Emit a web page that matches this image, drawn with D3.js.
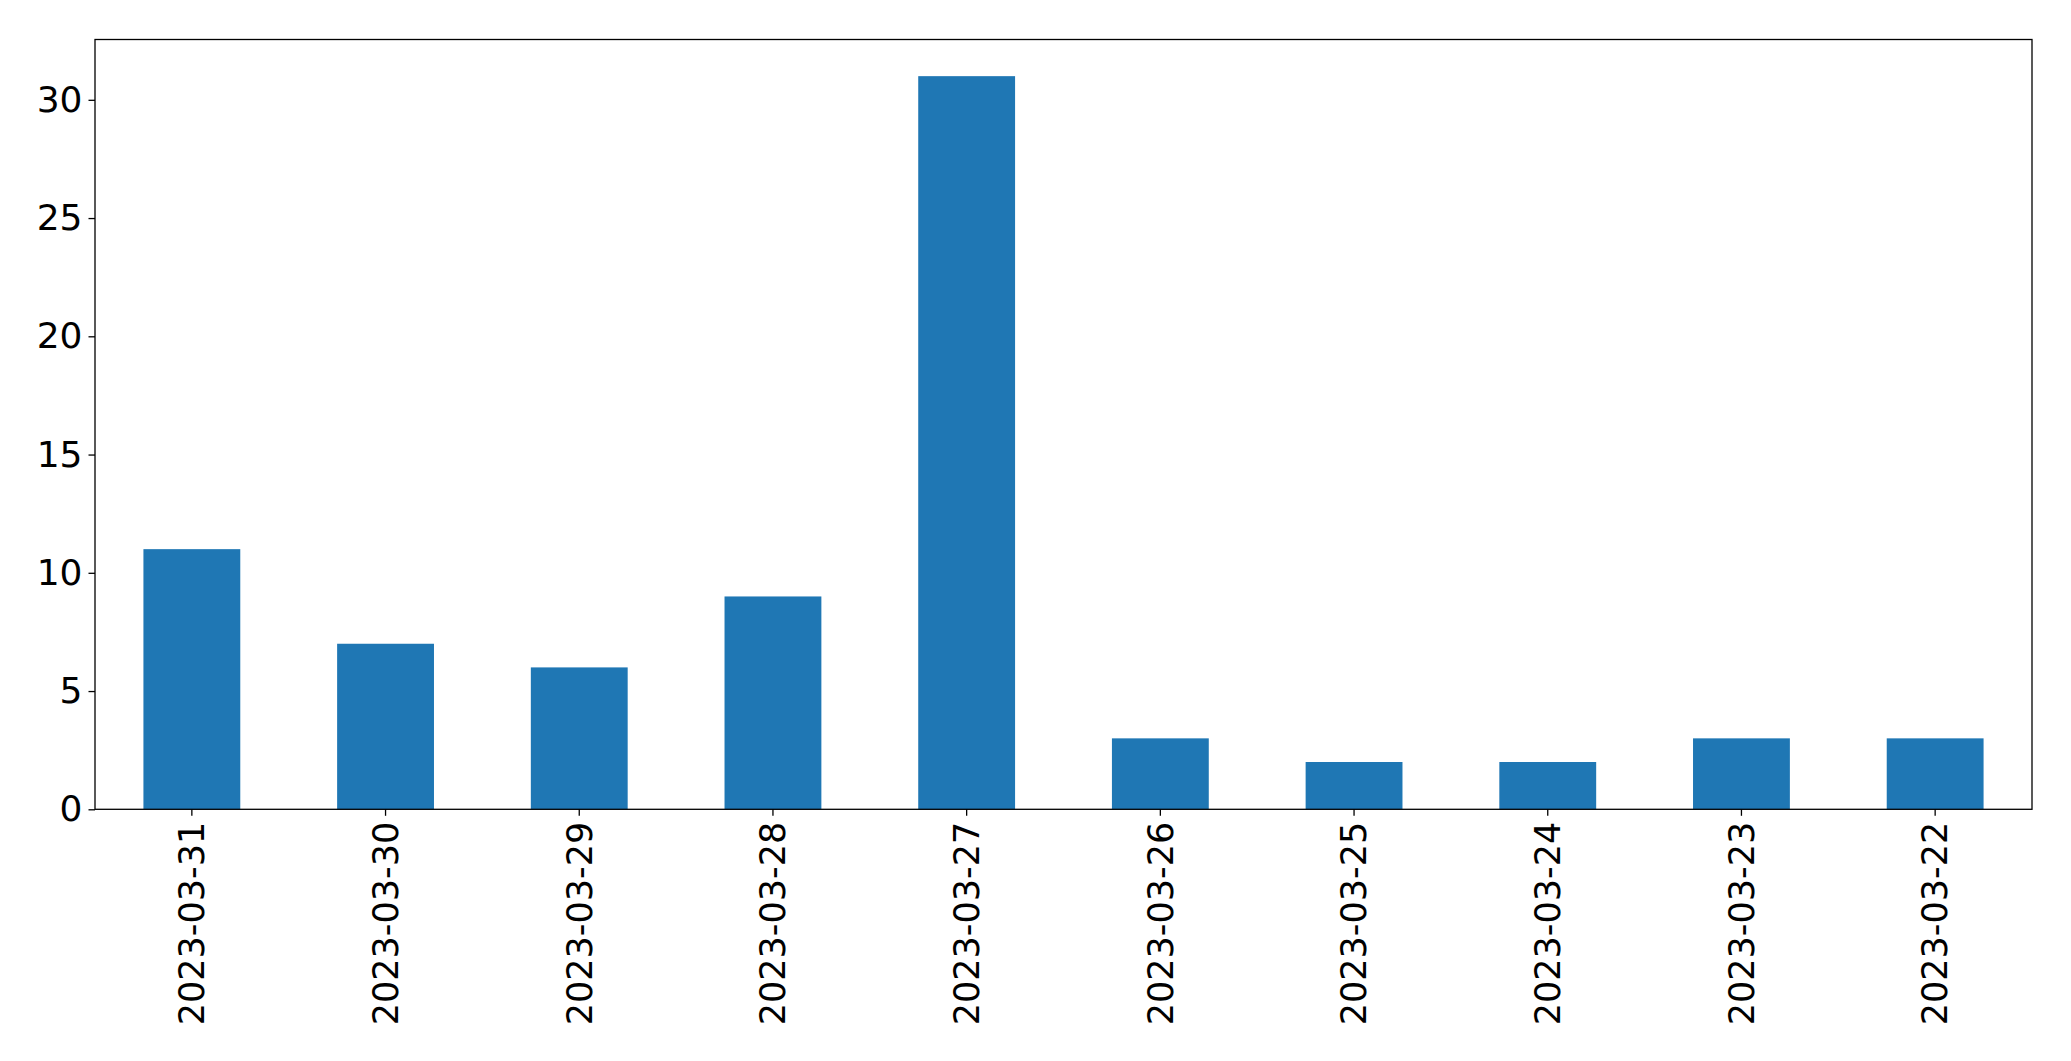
<!DOCTYPE html>
<html>
<head>
<meta charset="utf-8">
<script src="https://cdn.jsdelivr.net/npm/d3@7"></script>
<style>
  html, body { margin: 0; padding: 0; background: #fff; }
  svg { display: block; }
  text { font-family: "DejaVu Sans", sans-serif; fill: #000; }
</style>
</head>
<body>
<script>
const categories = ["2023-03-31","2023-03-30","2023-03-29","2023-03-28","2023-03-27","2023-03-26","2023-03-25","2023-03-24","2023-03-23","2023-03-22"];
const values = [11, 7, 6, 9, 31, 3, 2, 2, 3, 3];
const yTicks = [0, 5, 10, 15, 20, 25, 30];

const W = 2071, H = 1061;
const mLeft = 95, mRight = 2032, mTop = 39.5, mBottom = 809.3;

const svg = d3.select("body").append("svg").attr("width", W).attr("height", H);

const x = d3.scaleBand().domain(categories).range([mLeft, mRight]).paddingInner(0.5).paddingOuter(0.25);
const y = d3.scaleLinear().domain([0, d3.max(values) * 1.05]).range([mBottom, mTop]);

svg.append("g").selectAll("rect").data(values).join("rect")
  .attr("x", (d, i) => x(categories[i]))
  .attr("width", x.bandwidth())
  .attr("y", d => y(d))
  .attr("height", d => y(0) - y(d))
  .attr("fill", "#1f77b4");

// frame
svg.append("rect").attr("x", mLeft).attr("y", mTop).attr("width", mRight - mLeft).attr("height", mBottom - mTop)
  .attr("fill", "none").attr("stroke", "#000").attr("stroke-width", 1.3);

const yAxis = d3.axisLeft(y).tickValues(yTicks).tickSize(6.5).tickPadding(6).tickFormat(d3.format("d"));
const gy = svg.append("g").attr("transform", `translate(${mLeft},0)`).call(yAxis);
gy.select(".domain").remove();
gy.selectAll(".tick line").attr("stroke", "#000").attr("stroke-width", 1.3);
gy.selectAll("text").attr("font-size", 36).attr("font-family", "DejaVu Sans, sans-serif").attr("fill", "#000");

const xAxis = d3.axisBottom(x).tickSize(6.5).tickPadding(6);
const gx = svg.append("g").attr("transform", `translate(0,${mBottom})`).call(xAxis);
gx.select(".domain").remove();
gx.selectAll(".tick line").attr("stroke", "#000").attr("stroke-width", 1.3);
gx.selectAll("text")
  .attr("font-size", 35).attr("font-family", "DejaVu Sans, sans-serif").attr("fill", "#000")
  .attr("transform", "rotate(-90)")
  .attr("text-anchor", "end")
  .attr("x", -12.5)
  .attr("y", 0)
  .attr("dy", "0.35em");
</script>
</body>
</html>
